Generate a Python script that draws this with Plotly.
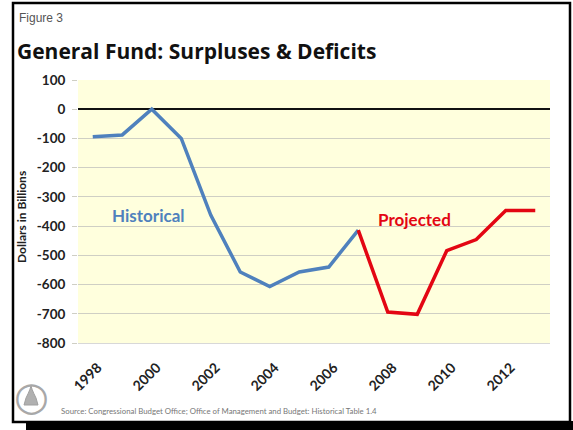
import plotly.graph_objects as go

hist_years = [1998, 1999, 2000, 2001, 2002, 2003, 2004, 2005, 2006, 2007]
hist_vals = [-94, -88, 0, -100, -362, -557, -607, -557, -540, -414]
proj_years = [2007, 2008, 2009, 2010, 2011, 2012, 2013]
proj_vals = [-414, -694, -702, -484, -446, -347, -347]
x_ticks = [1998, 2000, 2002, 2004, 2006, 2008, 2010, 2012]
y_ticks = [100, 0, -100, -200, -300, -400, -500, -600, -700, -800]

W, H = 573, 430
L, R, T, B = 78, 550, 80, 343


def px(x):
    return (x - L) / (R - L)


def py(y):
    return (B - y) / (B - T)


fig = go.Figure()
fig.add_trace(go.Scatter(x=hist_years, y=hist_vals, mode="lines",
                         line=dict(color="#4F81BD", width=3.5), showlegend=False))
fig.add_trace(go.Scatter(x=proj_years, y=proj_vals, mode="lines",
                         line=dict(color="#E30613", width=3.5), showlegend=False))

font_main = "Lato, 'Open Sans', sans-serif"

fig.update_layout(
    width=W, height=H,
    margin=dict(l=L, r=W - R, t=T, b=H - B),
    paper_bgcolor="white",
    plot_bgcolor="#FFFFDD",
    font=dict(family=font_main, color="#222"),
    xaxis=dict(range=[1997.5, 2013.5], tickvals=x_ticks,
               ticktext=[str(v) for v in x_ticks], tickangle=-45,
               showgrid=False, zeroline=False, showline=True,
               linecolor="#d8d8d8", linewidth=1, ticks="",
               ticklabelstandoff=10, ticklabelshift=5,
               tickfont=dict(family=font_main, size=14, color="#222", weight="bold")),
    yaxis=dict(range=[-800, 100], tickvals=y_ticks,
               ticktext=[str(v) for v in y_ticks],
               showgrid=True, gridcolor="#CFCFC4", gridwidth=1,
               zeroline=True, zerolinecolor="#111", zerolinewidth=2,
               ticks="outside", ticklen=5, tickcolor="#CFCFC4",
               showline=False, ticklabelstandoff=4,
               tickfont=dict(family=font_main, size=13.5, color="#222", weight="bold")),
)

annotations = [
    dict(text="Historical", x=1999.9, y=-362, xref="x", yref="y", showarrow=False,
         font=dict(family=font_main, size=17, color="#4F81BD", weight="bold")),
    dict(text="Projected", x=2008.92, y=-376, xref="x", yref="y", showarrow=False,
         font=dict(family=font_main, size=17, color="#E30613", weight="bold")),
    dict(text="Figure 3", x=px(17), y=py(18), xref="paper", yref="paper",
         xanchor="left", yanchor="middle", showarrow=False,
         font=dict(family="Liberation Sans, Arial, sans-serif", size=12, color="#555")),
    dict(text="General Fund: Surpluses & Deficits", x=px(15), y=py(51),
         xref="paper", yref="paper", xanchor="left", yanchor="middle", showarrow=False,
         font=dict(family="'Open Sans', sans-serif", size=21, color="#111", weight="bold")),
    dict(text="Dollars in Billions", x=px(21), y=py(217), xref="paper", yref="paper",
         textangle=-90, xanchor="center", yanchor="middle", showarrow=False,
         font=dict(family=font_main, size=12, color="#222", weight="bold")),
    dict(text="Source: Congressional Budget Office; Office of Management and Budget: Historical Table 1.4",
         x=px(59), y=py(411), xref="paper", yref="paper", xanchor="left", yanchor="middle",
         showarrow=False, font=dict(family=font_main, size=7.8, color="#777")),
    # seal ring
    dict(text="○", x=px(31), y=py(396), xref="paper", yref="paper",
         xanchor="center", yanchor="middle", showarrow=False,
         font=dict(family="DejaVu Sans", size=40, color="#A8A8A8")),
]
fig.update_layout(annotations=annotations)

shapes = [
    # outer frame
    dict(type="rect", xref="paper", yref="paper", x0=px(13), x1=px(570), y0=py(422), y1=py(3),
         line=dict(color="black", width=2.5), fillcolor="rgba(0,0,0,0)", layer="above"),
    # bottom black bar
    dict(type="rect", xref="paper", yref="paper", x0=px(26), x1=px(573), y0=py(430), y1=py(421),
         line=dict(width=0), fillcolor="black", layer="above"),
    # seal dome
    dict(type="path", xref="paper", yref="paper",
         path=f"M {px(24)} {py(405)} L {px(38)} {py(405)} L {px(36)} {py(398)} "
              f"Q {px(31)} {py(388)} {px(31)} {py(385)} Q {px(31)} {py(388)} {px(26)} {py(398)} Z",
         line=dict(color="#A0A0A0", width=1), fillcolor="#B0B0B0", layer="above"),
]
fig.update_layout(shapes=shapes)

fig.write_html("out.html")
